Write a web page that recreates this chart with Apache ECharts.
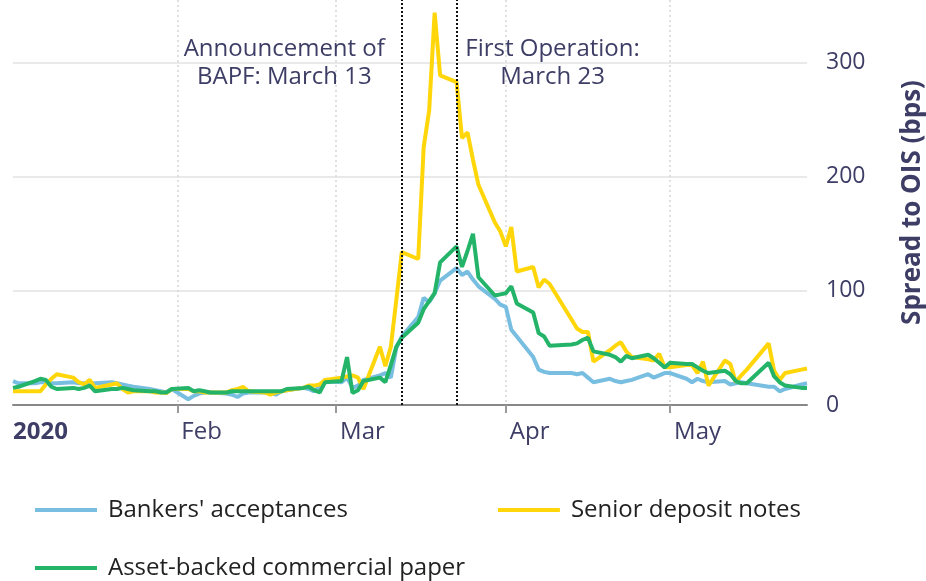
<!DOCTYPE html>
<html>
<head>
<meta charset="utf-8">
<script src="https://cdn.jsdelivr.net/npm/echarts@6/dist/echarts.min.js"></script>
<style>
  html, body { margin: 0; padding: 0; background: #fff; }
  #chart { width: 926px; height: 581px; }
</style>
</head>
<body>
<div id="chart"></div>
<script>
const textColor = '#3d3d66';
const colors = { bankers: '#78bee1', senior: '#ffd60a', abcp: '#23b469' };

// business days with observations (2020)
const dates = [
  '01-02', '01-03', '01-06', '01-07', '01-08', '01-09', '01-10', '01-13', '01-14', '01-15', '01-16',
  '01-17', '01-20', '01-21', '01-22', '01-23', '01-24', '01-27', '01-28', '01-29', '01-30', '01-31',
  '02-03', '02-04', '02-05', '02-06', '02-07', '02-10', '02-11', '02-12', '02-13', '02-14',
  '02-17', '02-18', '02-19', '02-20', '02-21', '02-24', '02-25', '02-26', '02-27', '02-28',
  '03-02', '03-03', '03-04', '03-05', '03-06', '03-09', '03-10', '03-11', '03-12', '03-13', '03-16',
  '03-17', '03-18', '03-19', '03-20', '03-23', '03-24', '03-25', '03-26', '03-27', '03-30', '03-31',
  '04-01', '04-02', '04-03', '04-06', '04-07', '04-08', '04-09', '04-13', '04-14', '04-15', '04-16',
  '04-17', '04-20', '04-21', '04-22', '04-23', '04-24', '04-27', '04-28', '04-29', '04-30',
  '05-01', '05-04', '05-05', '05-06', '05-07', '05-08', '05-11', '05-12', '05-13', '05-14', '05-15',
  '05-19', '05-20', '05-21', '05-22', '05-25', '05-26',
];

const bankersAcceptances = [
  21, 19, 19, 20, 20, 19, 19, 20, 19, 19, 19, 19, 20, 19, 18, 17, 16, 14, 13, 12, 11, 14,
  5, 8, 10, 11, 11, 10, 9, 7, 10, 11, 11, 11, 9, 12, 13, 15, 14, 12, 16, 21,
  20, 24, 15, 17, 22, 26, 28, 24, 50, 60, 77, 94, 90, 98, 109, 120, 114, 117, 110, 104, 93, 88,
  86, 66, 60, 42, 31, 29, 28, 28, 27, 28, 24, 20, 23, 21, 20, 21, 22, 27, 24, 26, 28,
  28, 23, 20, 23, 21, 20, 21, 18, 19, 20, 19, 16, 16, 12, 14, 18, 19,
];

const seniorDepositNotes = [
  12, 12, 12, 12, 18, 23, 27, 24, 20, 18, 22, 15, 18, 19, 14, 11, 12, 12, 11, 11, 10.5, 14,
  14, 12, 12, 11, 11, 11, 13, 14, 16, 12, 11, 9, 11, 12, 13, 15, 17, 17, 18, 22,
  24, 25, 26, 24, 14, 51, 34, 51, 92, 134, 128, 226, 258, 344, 289, 283, 234, 239, 215, 193, 160, 152,
  139, 156, 117, 121, 103, 110, 106, 75, 67, 64, 64, 38, 48, 52, 55, 47, 42, 40, 39, 45, 33,
  33, 35, 35, 28, 38, 17, 39, 36, 20, 26, 31, 54, 30, 22, 28, 31, 32,
];

const assetBackedPaper = [
  15, 16, 21, 23, 22, 16, 14, 15, 14, 15, 17, 12, 14, 14, 15, 14, 13, 12, 12, 11, 11, 14,
  15, 12, 13, 12, 11, 11, 12, 12, 12, 12, 12, 12, 12, 12, 14, 15, 16, 13, 11, 20,
  21, 42, 10.5, 13, 21, 24, 20, 35, 51, 59, 72, 84, 91, 98, 125, 139, 121, 135, 150, 112, 96, 97,
  98, 104, 89, 81, 63, 60, 52, 53, 54, 57, 59, 47, 44, 42, 38, 43, 41, 44, 41, 37, 33,
  37, 36, 36, 33, 30, 28, 30, 27, 21, 19, 19, 37, 25, 20, 17, 15, 15,
];

const monthLabels = {
  '2020-01-02': '2020',
  '2020-02-01': 'Feb',
  '2020-03-01': 'Mar',
  '2020-04-01': 'Apr',
  '2020-05-01': 'May',
};

const events = [
  { date: '2020-03-13', lines: ['Announcement of', 'BAPF: March 13'], side: 'left' },
  { date: '2020-03-23', lines: ['First Operation:', 'March 23'], side: 'right' },
];

// every calendar day on the axis
const days = [];
for (let t = Date.UTC(2020, 0, 2); t <= Date.UTC(2020, 4, 26); t += 86400000) {
  days.push(new Date(t).toISOString().slice(0, 10));
}

const toSeries = (values) => dates.map((d, i) => [`2020-${d}`, values[i]]);
const isMonth = (index, value) => value in monthLabels && index > 0;

const makeLine = (name, values, color) => ({
  name,
  type: 'line',
  data: toSeries(values),
  showSymbol: false,
  color,
  lineStyle: { width: 4, color },
});

const bankers = makeLine("Bankers' acceptances", bankersAcceptances, colors.bankers);
bankers.markLine = {
  silent: true,
  symbol: 'none',
  label: { show: false },
  lineStyle: { color: '#111', type: [2, 2], width: 2 },
  data: events.map((e) => ({ xAxis: e.date })),
};
bankers.markPoint = {
  symbol: 'circle',
  symbolSize: 0,
  silent: true,
  data: events.map((e) => ({
    coord: [e.date, 300],
    label: {
      show: true,
      position: e.side,
      distance: e.side === 'left' ? 10 : 5,
      formatter: e.lines.map((l) => `{t|${l}}`).join('\n'),
      rich: {
        t: {
          width: e.side === 'left' ? 215 : 182,
          align: 'center',
          fontSize: 24,
          lineHeight: 28,
          color: textColor,
          fontFamily: 'Open Sans',
        },
      },
    },
  })),
};

const legendText = { fontSize: 24, color: '#222', fontFamily: 'Open Sans', padding: [0, 0, 0, 6] };

const option = {
  animation: false,
  textStyle: { fontFamily: 'Open Sans' },
  grid: { left: 13, right: 119, top: 0, bottom: 176, containLabel: false, outerBoundsMode: 'none' },
  legend: [
    {
      left: 30,
      top: 493,
      itemGap: 150,
      itemWidth: 62,
      itemHeight: 4,
      icon: 'rect',
      data: ["Bankers' acceptances", 'Senior deposit notes'],
      textStyle: legendText,
    },
    {
      left: 30,
      top: 551,
      itemWidth: 62,
      itemHeight: 4,
      icon: 'rect',
      data: ['Asset-backed commercial paper'],
      textStyle: legendText,
    },
  ],
  xAxis: {
    type: 'category',
    data: days,
    boundaryGap: false,
    axisLine: { lineStyle: { color: '#888', width: 2 } },
    axisTick: { interval: isMonth, length: 8, lineStyle: { color: '#999', width: 2 } },
    axisLabel: {
      interval: (index, value) => value in monthLabels,
      align: 'left',
      margin: 15,
      formatter: (value) => (value === '2020-01-02' ? `{y|${monthLabels[value]}}` : `{m|${monthLabels[value]}}`),
      rich: {
        y: { fontSize: 24, fontWeight: 'bold', color: textColor, fontFamily: 'Open Sans' },
        m: { fontSize: 24, color: textColor, fontFamily: 'Open Sans', padding: [0, 0, 0, 4] },
      },
    },
    splitLine: {
      show: true,
      interval: isMonth,
      lineStyle: { color: '#d6d6d6', width: 1.5, type: [2, 3] },
    },
  },
  yAxis: {
    type: 'value',
    position: 'right',
    min: 0,
    max: 355,
    interval: 100,
    axisLine: { show: false },
    axisTick: { show: false },
    axisLabel: {
      margin: 19,
      fontSize: 23,
      color: textColor,
      showMaxLabel: false,
      formatter: (v) => (v % 100 === 0 ? String(v) : ''),
    },
    splitLine: { showMaxLine: false, lineStyle: { color: '#e2e2e2', width: 1.5 } },
    name: 'Spread to OIS (bps)',
    nameLocation: 'middle',
    nameRotate: 90,
    nameGap: 93,
    nameTextStyle: { fontSize: 26, fontWeight: 'bold', color: textColor },
  },
  series: [
    bankers,
    makeLine('Senior deposit notes', seniorDepositNotes, colors.senior),
    makeLine('Asset-backed commercial paper', assetBackedPaper, colors.abcp),
  ],
};

const chart = echarts.init(document.getElementById('chart'));
chart.setOption(option);
</script>
</body>
</html>
